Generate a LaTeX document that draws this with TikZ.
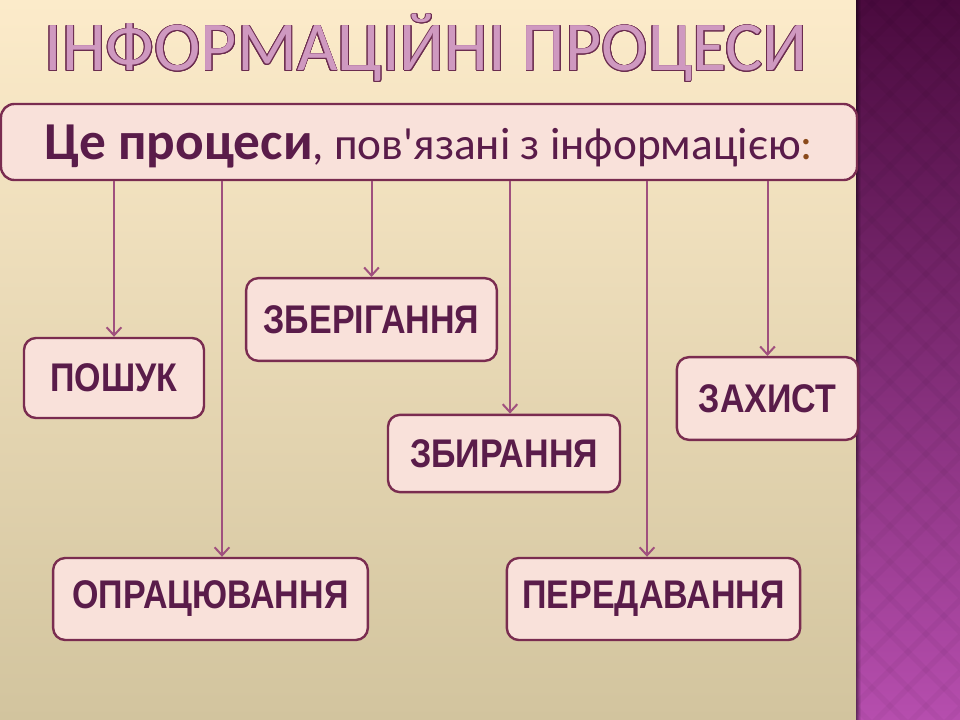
\documentclass[tikz,border=0pt]{standalone}
\usepackage{fontspec}
\usepackage{contour}
\usetikzlibrary{arrows.meta,positioning}

\newfontfamily\titlefont{Carlito}
\newfontfamily\boxfont[FakeStretch=0.85]{Liberation Sans}

\definecolor{bgtop}{HTML}{FCEBCA}
\definecolor{bgbottom}{HTML}{D2C49E}
\definecolor{striptop}{HTML}{4A0A3E}
\definecolor{stripbottom}{HTML}{B64EAE}
\definecolor{titlefill}{HTML}{CF99C0}
\definecolor{titleedge}{HTML}{6B2C4F}
\definecolor{boxfill}{HTML}{F9E1DA}
\definecolor{boxedge}{HTML}{7A2C50}
\definecolor{boxtext}{HTML}{5A1C4A}
\definecolor{arrowline}{HTML}{A0507E}
\definecolor{colon}{HTML}{8B4A1A}

\contourlength{0.7pt}

\tikzset{
  procbox/.style={draw=boxedge, line width=1.8pt, fill=boxfill, rounded corners=9pt,
    text=boxtext, inner sep=0pt, font=\boxfont\bfseries\fontsize{30}{30}\selectfont},
  procarrow/.style={draw=arrowline, line width=1.5pt,
    -{Straight Barb[length=6pt,width=11pt]}}
}

\begin{document}
\begin{tikzpicture}[x=0.75pt,y=-0.75pt]
% background
\useasboundingbox (0,0) rectangle (960,720);
\shade[top color=bgtop, bottom color=bgbottom] (0,0) rectangle (856,720);
\shade[top color=striptop, bottom color=stripbottom] (856,0) rectangle (960,720);
\begin{scope}
  \clip (856,0) rectangle (960,720);
  \foreach \k in {0,...,24} {
    \draw[black, opacity=0.03, line width=4pt] (856,\k*36-120) -- ++(120,120);
    \draw[black, opacity=0.03, line width=4pt] (960,\k*36-120) -- ++(-120,120);
  }
\end{scope}
\foreach \i/\o in {0/0.45,1/0.35,2/0.25,3/0.15,4/0.07}
  \fill[black, opacity=\o] (856+\i,0) rectangle ++(1,720);

% title
\node[font=\titlefont\fontsize{52.5}{56}\selectfont, anchor=base] (title) at (426,71)
  {\textcolor{titlefill}{\contour{titleedge}{ІНФОРМАЦІЙНІ ПРОЦЕСИ}}};

% header
\node[draw=boxedge, line width=1.8pt, fill=boxfill, rounded corners=10pt,
      minimum width=642pt, minimum height=57pt, text=boxtext, inner sep=0pt,
      text height=27pt, text depth=0pt] (head) at (429,142)
  {{\titlefont\bfseries\fontsize{40}{40}\selectfont Це процеси}{\titlefont\fontsize{34}{36}\selectfont, пов'язані з інформацією\textcolor{colon}{:}}};

% processes
\node[procbox, minimum width=135pt, minimum height=60pt] (search) at (114,378) {ПОШУК};
\node[procbox, minimum width=188pt, minimum height=62pt] (store) at (371.5,319.5) {ЗБЕРІГАННЯ};
\node[procbox, minimum width=174pt, minimum height=58pt] (collect) at (504,453.5) {ЗБИРАННЯ};
\node[procbox, minimum width=136pt, minimum height=62pt] (protect) at (767.5,398.5) {ЗАХИСТ};
\node[procbox, minimum width=236pt, minimum height=61.5pt] (handle) at (210.5,599) {ОПРАЦЮВАННЯ};
\node[procbox, minimum width=220pt, minimum height=61.5pt] (transfer) at (653.5,599) {ПЕРЕДАВАННЯ};

% arrows
\draw[procarrow] (head.south -| search.north) -- (search.north);
\draw[procarrow] (head.south -| 222,0) -- (handle.north -| 222,0);
\draw[procarrow] (head.south -| store.north) -- (store.north);
\draw[procarrow] (head.south -| 510,0) -- (collect.north -| 510,0);
\draw[procarrow] (head.south -| 647,0) -- (transfer.north -| 647,0);
\draw[procarrow] (head.south -| protect.north) -- (protect.north);
\end{tikzpicture}
\end{document}
